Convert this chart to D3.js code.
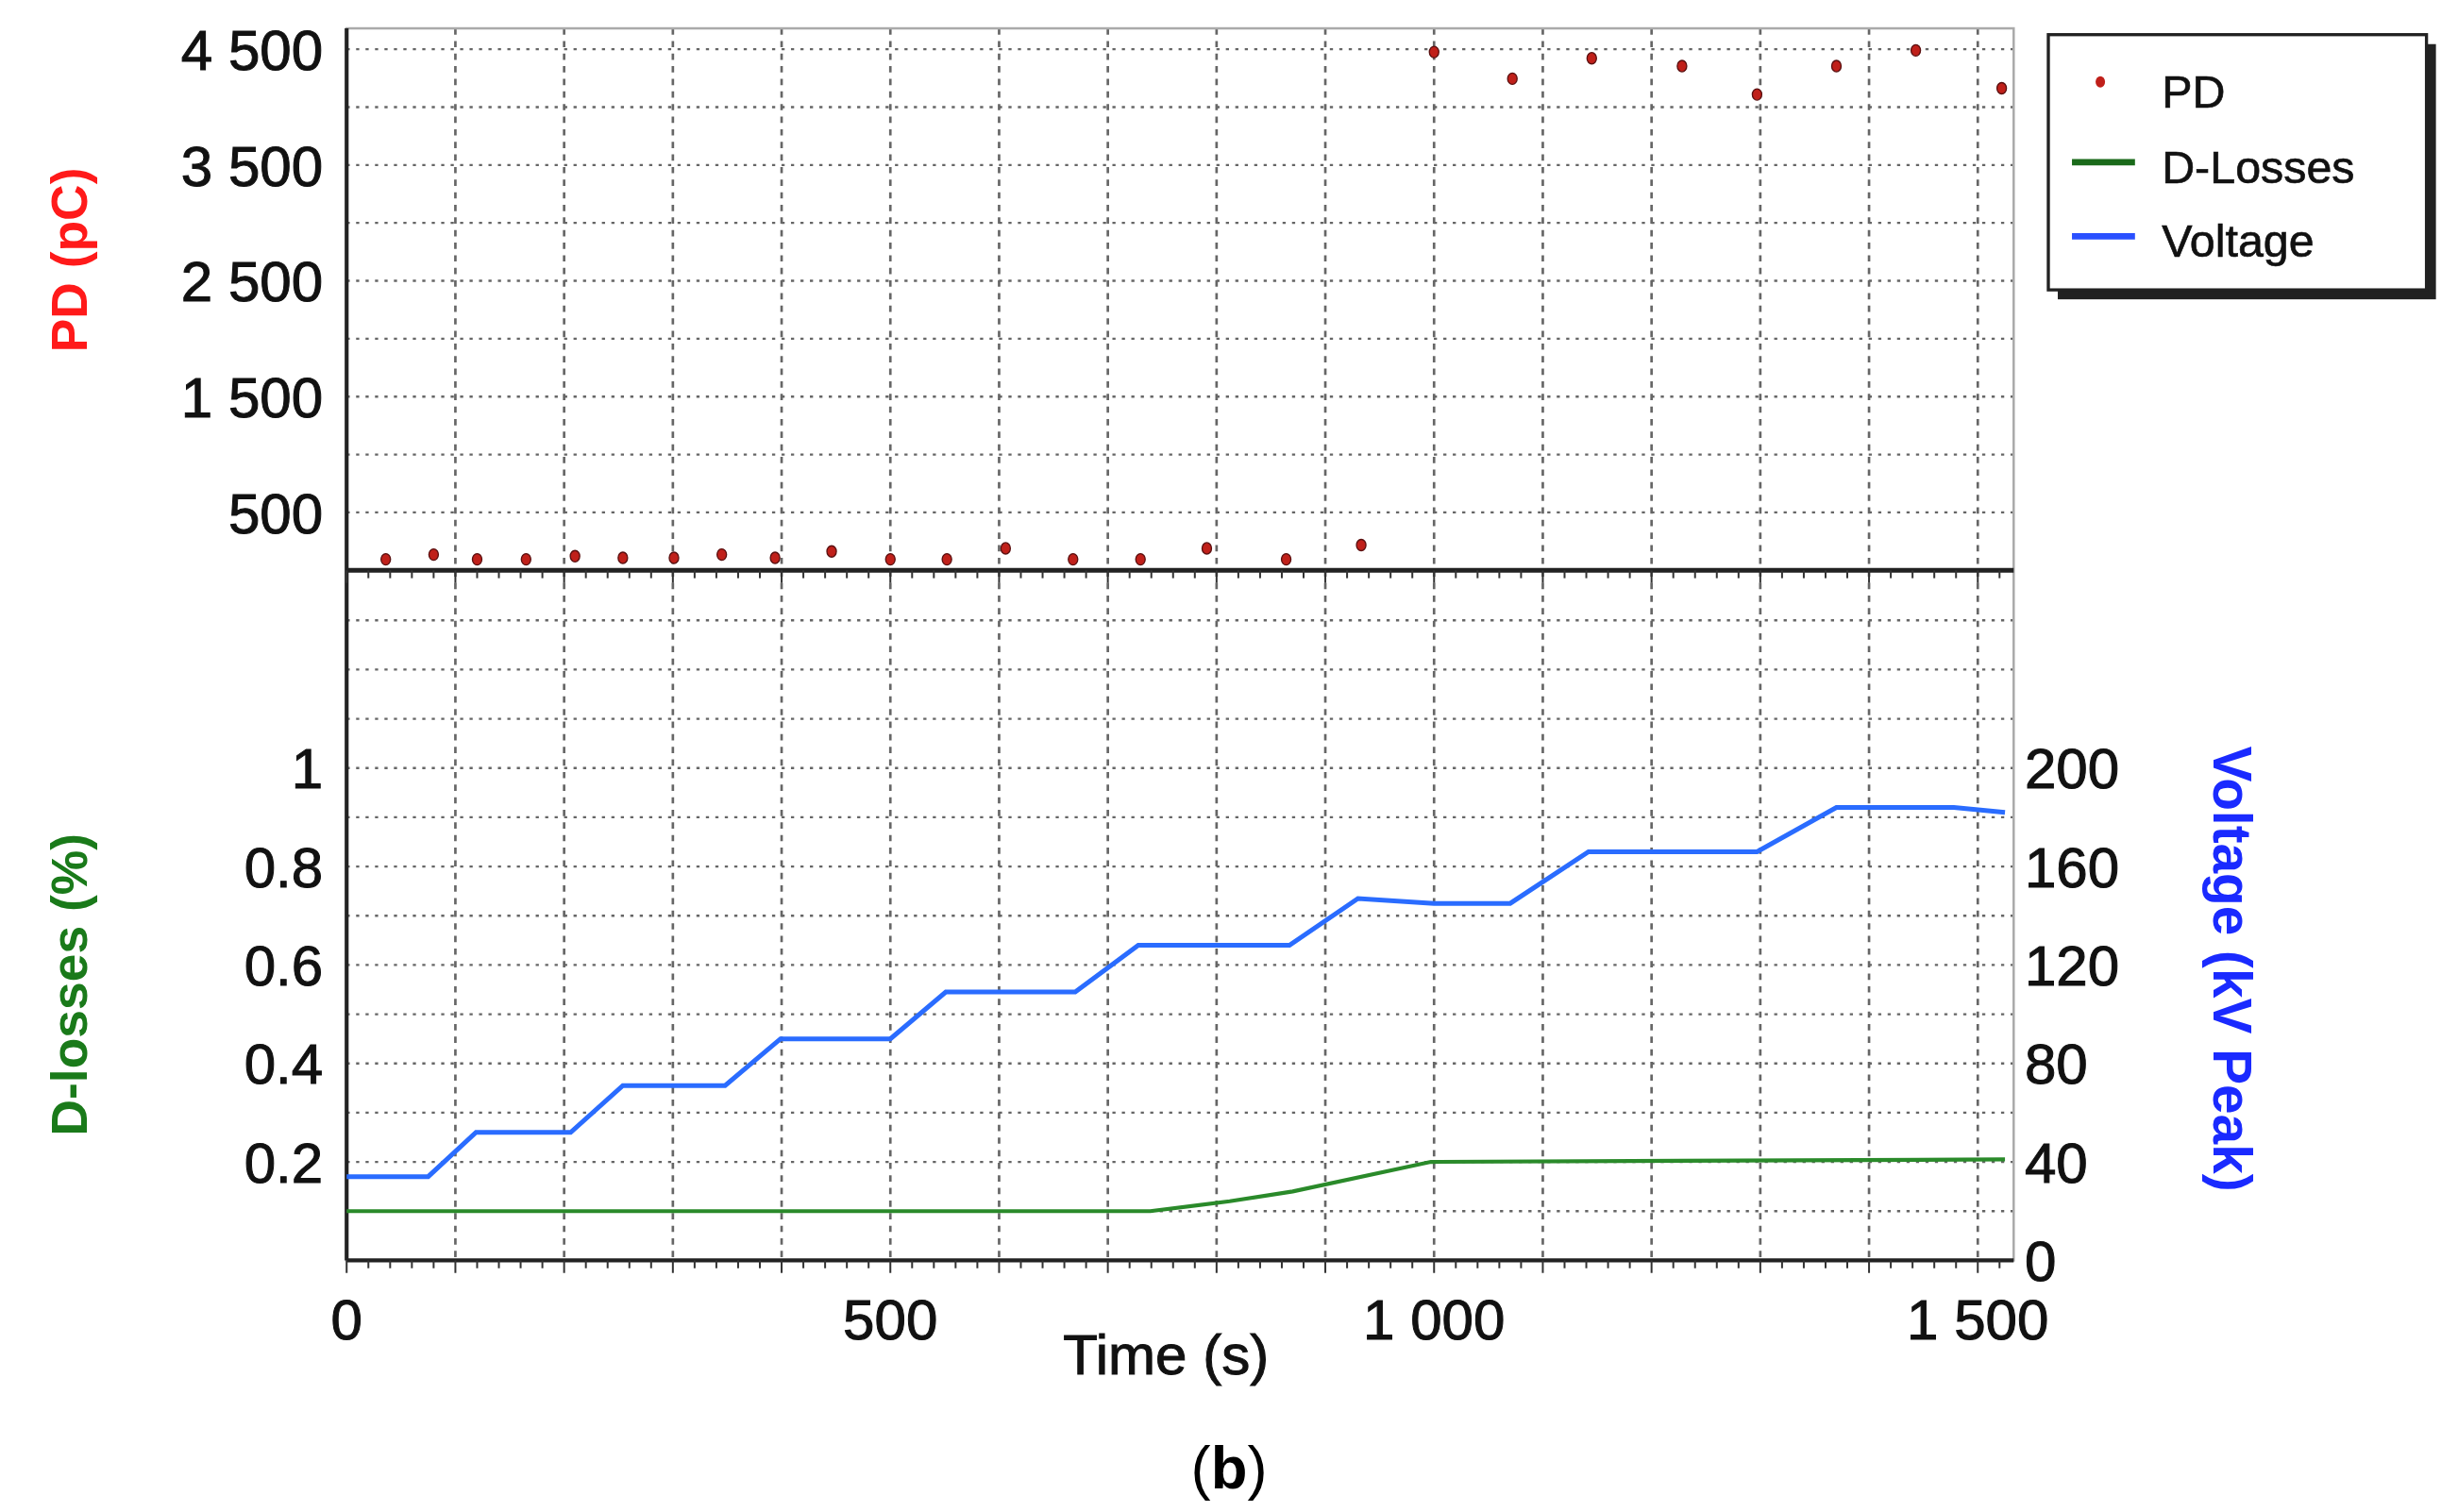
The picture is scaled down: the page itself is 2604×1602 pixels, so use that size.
<!DOCTYPE html>
<html><head><meta charset="utf-8">
<script src="https://cdn.jsdelivr.net/npm/d3@7"></script>
<style>body{margin:0;background:#fff}svg{display:block}text{font-family:"Liberation Sans",Arial,sans-serif}</style>
</head><body><svg id="c" width="2604" height="1602"></svg>
<script>
const pdTime=[36,80,120,165,210,254,301,345,394,446,500,552,606,668,730,791,864,933,1000,1072,1145,1228,1297,1370,1443,1522];
const pdValue=[95,136,95,95,122,108,108,136,108,163,95,95,190,95,95,190,95,218,4476,4245,4422,4354,4109,4354,4490,4163];
const vTime=[0,75,119,206,254,348,399,500,551,670,728,867,930,1000,1070,1142,1297,1370,1478,1525];
const vValue=[34,34,52,52,71,71,90,90,109,109,128,128,147,145,145,166,166,184,184,182];
const dTime=[0,739,812,870,997,1525];
const dValue=[0.1,0.1,0.12,0.14,0.2,0.205];
const pdTicks=[500,1500,2500,3500,4500];
const dTicks=[0.2,0.4,0.6,0.8,1];
const vTicks=[0,40,80,120,160,200];
const xTicks=[0,500,1000,1500];

const k=2604/1560;
const svg=d3.select("#c");
const g=svg.append("g").attr("transform",`scale(${k})`);
const L=220,R=1278,T=18,M=362,B=800;
const x=d3.scaleLinear().domain([0,1533]).range([L,R]);
const yPD=d3.scaleLinear().domain([0,4680]).range([M,T]);
const yD=d3.scaleLinear().domain([0,1.4016]).range([B,M]);
const yV=d3.scaleLinear().domain([0,280.3]).range([B,M]);
const grid="#666";
// vertical grid
d3.range(100,1533,100).forEach(t=>{
  g.append("line").attr("x1",x(t)).attr("x2",x(t)).attr("y1",T).attr("y2",B).attr("stroke",grid).attr("stroke-width",1.6).attr("stroke-dasharray","4,4");
});
d3.range(500,4680,500).forEach(v=>{
  g.append("line").attr("x1",L).attr("x2",R).attr("y1",yPD(v)).attr("y2",yPD(v)).attr("stroke",grid).attr("stroke-width",1.4).attr("stroke-dasharray","2,4");
});
d3.range(1,14).forEach(i=>{const v=i/10;
  g.append("line").attr("x1",L).attr("x2",R).attr("y1",yD(v)).attr("y2",yD(v)).attr("stroke",grid).attr("stroke-width",1.4).attr("stroke-dasharray","2,4");
});
// frames
g.append("rect").attr("x",L).attr("y",T).attr("width",R-L).attr("height",B-T).attr("fill","none").attr("stroke","#aaa").attr("stroke-width",1.5);
g.append("line").attr("x1",L).attr("x2",R).attr("y1",M).attr("y2",M).attr("stroke","#222").attr("stroke-width",3);
g.append("line").attr("x1",L).attr("x2",R).attr("y1",B).attr("y2",B).attr("stroke","#222").attr("stroke-width",2.5);
g.append("line").attr("x1",L).attr("x2",L).attr("y1",T).attr("y2",B).attr("stroke","#222").attr("stroke-width",2.5);
// minor ticks
d3.range(0,1533,20).forEach(t=>{
  [M,B].forEach(yy=>g.append("line").attr("x1",x(t)).attr("x2",x(t)).attr("y1",yy).attr("y2",yy+(t%100===0?8:5)).attr("stroke","#333").attr("stroke-width",1.2));
});
// data
g.append("path").datum(dTime.map((t,i)=>[t,dValue[i]])).attr("fill","none").attr("stroke","#2a8a2a").attr("stroke-width",2.5)
 .attr("d",d3.line().x(d=>x(d[0])).y(d=>yD(d[1])));
g.append("path").datum(vTime.map((t,i)=>[t,vValue[i]])).attr("fill","none").attr("stroke","#2a6cff").attr("stroke-width",3)
 .attr("d",d3.line().x(d=>x(d[0])).y(d=>yV(d[1])));
pdTime.forEach((t,i)=>g.append("ellipse").attr("cx",x(t)).attr("cy",yPD(pdValue[i])).attr("rx",3).attr("ry",3.6).attr("fill","#c0201a").attr("stroke","#5a1010").attr("stroke-width",0.8));
// tick labels
const tl={"font-size":36,"fill":"#111","stroke":"#111","stroke-width":0.6};
function txt(s,xx,yy,anchor,attrs){const t=g.append("text").attr("x",xx).attr("y",yy).attr("text-anchor",anchor).text(s);Object.entries(attrs).forEach(([a,b])=>t.attr(a,b));return t;}
const fmt=v=>v>=1000?d3.format(",")(v).replace(","," "):String(v);
pdTicks.forEach(v=>txt(fmt(v),205,yPD(v)+13,"end",tl));
dTicks.forEach(v=>txt(String(v),205,yD(v)+13,"end",tl));
vTicks.forEach(v=>txt(String(v),1285,yV(v)+13,"start",tl));
xTicks.forEach(v=>txt(fmt(v),x(v)+(v===0?0:0),850,"middle",tl));
txt("Time (s)",740,872,"middle",tl);
// axis titles
g.append("text").attr("transform","translate(55,165) rotate(-90)").attr("text-anchor","middle").attr("font-size",32).attr("font-weight","bold").attr("fill","#ff1a1a").text("PD (pC)");
g.append("text").attr("transform","translate(55,625) rotate(-90)").attr("text-anchor","middle").attr("font-size",32).attr("font-weight","bold").attr("fill","#1a7a1a").text("D-losses (%)");
g.append("text").attr("transform","translate(1405,615) rotate(90)").attr("text-anchor","middle").attr("font-size",34).attr("font-weight","900").attr("fill","#1a2aff").text("Voltage (kV Peak)");
// legend
g.append("rect").attr("x",1306).attr("y",28).attr("width",240).attr("height",162).attr("fill","#222");
g.append("rect").attr("x",1300).attr("y",22).attr("width",240).attr("height",162).attr("fill","#fff").attr("stroke","#222").attr("stroke-width",2);
g.append("ellipse").attr("cx",1333).attr("cy",52).attr("rx",3).attr("ry",3.6).attr("fill","#c0201a");
g.append("line").attr("x1",1315).attr("x2",1355).attr("y1",103).attr("y2",103).attr("stroke","#1a6a1a").attr("stroke-width",4);
g.append("line").attr("x1",1315).attr("x2",1355).attr("y1",150).attr("y2",150).attr("stroke","#2a50ff").attr("stroke-width",4);
const lg={"font-size":29,"fill":"#111","stroke":"#111","stroke-width":0.4};
txt("PD",1372,68,"start",lg);txt("D-Losses",1372,116,"start",lg);txt("Voltage",1372,163,"start",lg);
g.append("text").attr("x",780).attr("y",945).attr("text-anchor","middle").attr("font-size",38).attr("font-family","Liberation Serif,serif").text("(").append("tspan").attr("font-weight","bold").text("b").select(function(){return this.parentNode;}).append("tspan").text(")");
</script></body></html>
